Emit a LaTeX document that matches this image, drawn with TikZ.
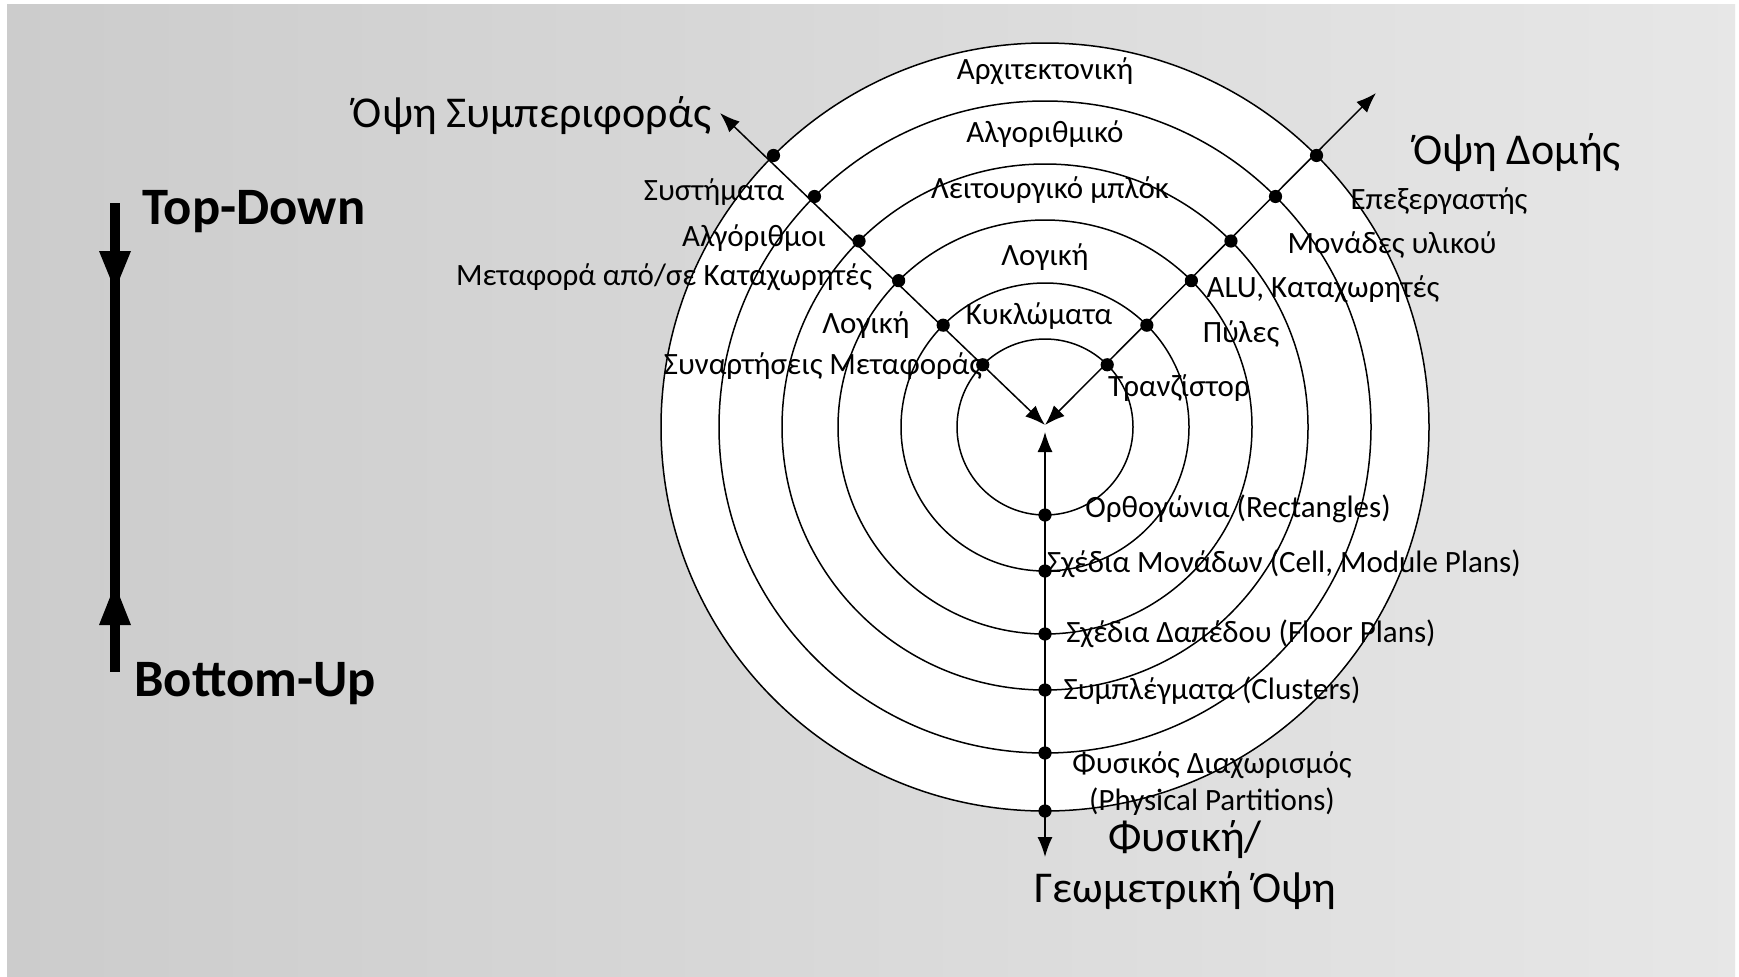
\documentclass[tikz,border=0pt]{standalone}
\usepackage{fontspec}
\setmainfont{Carlito}
\usetikzlibrary{arrows.meta,calc}
\definecolor{bgL}{gray}{0.80}
\definecolor{bgR}{gray}{0.905}
\begin{document}
\begin{tikzpicture}[x=0.5pt,y=-0.5pt,
  ring/.style={draw=black,line width=0.75pt},
  axis/.style={line width=0.75pt,{Latex[length=10pt,width=7.5pt]}-{Latex[length=10pt,width=7.5pt]}},
  dot/.style={circle,fill=black,inner sep=0pt,minimum size=6.6pt},
  lbl/.style={font=\fontsize{15.5}{18}\selectfont,inner sep=0pt},
  view/.style={font=\fontsize{22}{26}\selectfont,inner sep=0pt},
  dirlbl/.style={font=\bfseries\fontsize{26.3}{30}\selectfont,inner sep=0pt,anchor=west}]
\useasboundingbox (0,0) rectangle (1739,976);
\fill[white] (0,0) rectangle (1739,976);
\shade[left color=bgL,right color=bgR] (7,4) rectangle (1735,976);

% concentric levels
\coordinate (c) at (1045,427);
\fill[white] (c) circle (384);
\foreach \r in {384,326,263,207,144,88} \draw[ring] (c) circle (\r);

% the three view axes
\coordinate (hub) at (1045,425);
\coordinate (hubV) at (1045,432);
\coordinate (behEnd) at (720,113);
\coordinate (strEnd) at (1376,93);
\coordinate (geoEnd) at (1045,857);
\draw[axis] (behEnd) -- (hub);
\draw[axis] (strEnd) -- (hub);
\draw[axis] (geoEnd) -- (hubV);

% level markers on each axis
\foreach \r [count=\i] in {384,326,263,207,144,88} {
  \pgfmathsetmacro{\d}{\r*0.7071}
  \node[dot] (b\i) at ($(c)+(-\d,-\d)$) {};
  \node[dot] (s\i) at ($(c)+(\d,-\d)$) {};
  \node[dot] (g\i) at ($(c)+(0,\r)$) {};
}

% level names
\node[lbl] (l1) at (1045,71) {Αρχιτεκτονική};
\node[lbl] (l2) at (1045,134) {Αλγοριθμικό};
\node[lbl] (l3) at (1050,190) {Λειτουργικό μπλόκ};
\node[lbl] (l4) at (1045,257) {Λογική};
\node[lbl] (l5) at (1039,316) {Κυκλώματα};

% behavioural view
\node[lbl] (bl1) at (714,192) {Συστήματα};
\node[lbl] (bl2) at (754,238) {Αλγόριθμοι};
\node[lbl] (bl3) at (664,277) {Μεταφορά από/σε Καταχωρητές};
\node[lbl] (bl4) at (866,325) {Λογική};
\node[lbl] (bl5) at (823,366) {Συναρτήσεις Μεταφοράς};

% structural view
\node[lbl] (sl1) at (1439,201) {Επεξεργαστής};
\node[lbl] (sl2) at (1392,245) {Μονάδες υλικού};
\node[lbl] (sl3) at (1323,289) {ALU, Καταχωρητές};
\node[lbl] (sl4) at (1241,334) {Πύλες};
\node[lbl] (sl5) at (1179,388) {Τρανζίστορ};

% physical view
\node[lbl] (gl1) at (1238,509) {Ορθογώνια (Rectangles)};
\node[lbl] (gl2) at (1284,564) {Σχέδια Μονάδων (Cell, Module Plans)};
\node[lbl] (gl3) at (1251,634) {Σχέδια Δαπέδου (Floor Plans)};
\node[lbl] (gl4) at (1212,691) {Συμπλέγματα (Clusters)};
\node[lbl] (gl5) at (1212,765) {Φυσικός Διαχωρισμός};
\node[lbl] (gl6) at (1212,802) {(Physical Partitions)};

% view titles
\node[view] (vb) at (532,116) {Όψη Συμπεριφοράς};
\node[view] (vs) at (1517,153) {Όψη Δομής};
\node[view] (vg1) at (1185,840) {Φυσική/};
\node[view] (vg2) at (1185,891) {Γεωμετρική Όψη};

% design direction
\node[dirlbl] (td) at (142,212) {Top-Down};
\node[dirlbl] (bu) at (134,684) {Bottom-Up};
\coordinate (dTop) at (115,203);
\coordinate (dBot) at (115,672);
\draw[line width=5pt] (dTop) -- (dBot);
\fill (99,251) -- (131,251) -- (117.5,284) -- (112.5,284) -- cycle;
\fill (99,625) -- (131,625) -- (117.5,591) -- (112.5,591) -- cycle;
\end{tikzpicture}
\end{document}
